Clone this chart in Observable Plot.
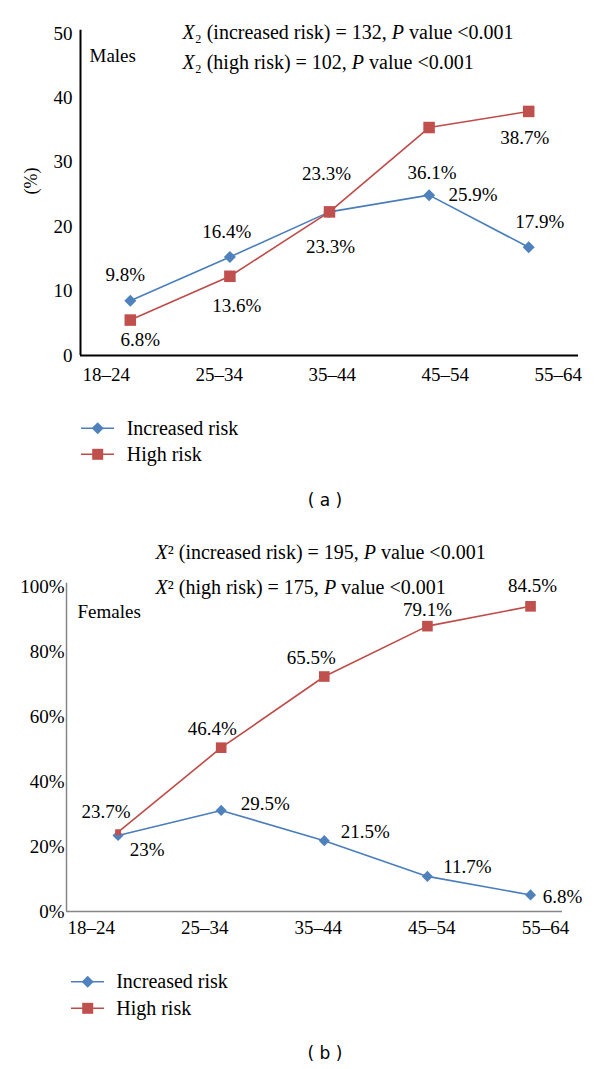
<!DOCTYPE html>
<html><head><meta charset="utf-8">
<script src="https://cdn.jsdelivr.net/npm/d3@7"></script>
<script src="https://cdn.jsdelivr.net/npm/@observablehq/plot@0.6"></script>
<style>
body{margin:0;background:#fff;}
#root{position:relative;width:600px;height:1069px;}
#root svg{position:absolute;left:0;overflow:visible;}
#root svg text{font-family:'Liberation Serif','Times New Roman',serif;}
#root svg text.cap{font-family:'DejaVu Sans',sans-serif;}
</style></head><body><div id="root"></div>
<script>
// ---- data ----
const ageGroups = ["18–24", "25–34", "35–44", "45–54", "55–64"];
const seriesNames = ["Increased risk", "High risk"];

const malesIncreased = [8.5, 15.3, 22.3, 24.9, 16.8];
const malesHigh = [5.5, 12.3, 22.3, 35.4, 37.9];
const malesIncreasedLabels = ["9.8%", "16.4%", "23.3%", "25.9%", "17.9%"];
const malesHighLabels = ["6.8%", "13.6%", "23.3%", "36.1%", "38.7%"];
const malesTicks = [0, 10, 20, 30, 40, 50];
const malesNotes = ["X₂ (increased risk) = 132, P value <0.001", "X₂ (high risk) = 102, P value <0.001"];

const femalesIncreased = [23.4, 31.1, 21.8, 10.8, 5.1];
const femalesHigh = [24.4, 50.4, 72.3, 87.8, 93.9];
const femalesIncreasedLabels = ["23%", "29.5%", "21.5%", "11.7%", "6.8%"];
const femalesHighLabels = ["23.7%", "46.4%", "65.5%", "79.1%", "84.5%"];
const femalesTicks = [0, 20, 40, 60, 80, 100];
const femalesNotes = ["X² (increased risk) = 195, P value <0.001", "X² (high risk) = 175, P value <0.001"];

// ---- layout (label nudges in px) ----
const nudgeMalesIncreased = [[-5,-26],[-3,-25],[-3,-38],[44,0],[11,-25]];
const nudgeMalesHigh = [[10,20],[7,30],[1,35],[3,45],[-4,26]];
const nudgeFemalesIncreased = [[29,14],[44,-7],[41,-9],[40,-9],[32,2]];
const nudgeFemalesHigh = [[-12,-20],[-9,-19],[-13,-19],[0,-16],[2,-20]];

const BLUE = "#4F81BD", RED = "#C0504D", BLUE_LINE = "#4A7EBB", RED_LINE = "#BE4B48";
const SERIF = "'Liberation Serif', 'Times New Roman', serif";

function labelMarks(vals, labels, nudges) {
  return labels.map((lab, i) => Plot.text([i], {
    x: d => d, y: d => vals[d], text: () => lab,
    dx: nudges[i][0], dy: nudges[i][1], fontSize: 19, fontFamily: SERIF, fill: "black"
  }));
}

function panel(o) {
  const idx = d3.range(ageGroups.length);
  const T = {fontFamily: SERIF, fill: "black"};
  const marks = [
    Plot.ruleY([0], {x1: o.xMin, x2: o.xMax, stroke: o.axisColor, strokeWidth: o.axisWidth}),
    Plot.ruleX([o.xMin], {y1: 0, y2: o.yMax + o.yMax * 0.01, stroke: o.axisColor, strokeWidth: o.axisWidth}),
    Plot.axisY({ticks: o.yTicks, tickSize: 0, tickPadding: o.tickPad, tickFormat: o.fmt, fontSize: o.yFont, label: null, ...T}),
    Plot.text(ageGroups, {x: (d, i) => o.tickStart + i * o.tickStep, y: 0, dy: o.tickDy, text: d => d, fontSize: 19, ...T}),
    Plot.line(idx, {x: i => i, y: i => o.inc[i], stroke: BLUE_LINE, strokeWidth: 1.6}),
    Plot.line(idx, {x: i => i, y: i => o.high[i], stroke: RED_LINE, strokeWidth: 1.6}),
    Plot.dot(idx, {x: i => i, y: i => o.inc[i], symbol: "diamond2", r: o.dR, fill: BLUE, stroke: "none"}),
    Plot.dot(idx.filter(i => !(o.smallFirst && i === 0)), {x: i => i, y: i => o.high[i], symbol: "square", r: o.sR, fill: RED, stroke: "none"}),
    ...(o.smallFirst ? [Plot.dot([0], {x: i => i, y: i => o.high[i], symbol: "square", r: 3.3, fill: RED, stroke: "none"})] : []),
    ...labelMarks(o.inc, o.incLabels, o.incNudge),
    ...labelMarks(o.high, o.highLabels, o.highNudge),
    Plot.text([o.title], {frameAnchor: "top-left", lineAnchor: "middle", dx: o.titleDx, dy: o.titleDy, textAnchor: "start", text: d => d, fontSize: 19, ...T}),
    Plot.text([o.notes[0]], {frameAnchor: "top-left", lineAnchor: "middle", dx: o.noteDx, dy: o.noteDy[0], textAnchor: "start", text: d => d, fontSize: 20, ...T}),
    Plot.text([o.notes[1]], {frameAnchor: "top-left", lineAnchor: "middle", dx: o.noteDx, dy: o.noteDy[1], textAnchor: "start", text: d => d, fontSize: 20, ...T})
  ];
  if (o.yLabel) marks.push(Plot.text([o.yLabel], {frameAnchor: "left", dx: o.yLabelDx, rotate: -90, text: d => d, fontSize: 18, ...T}));
  const svg = Plot.plot({
    width: 600, height: o.height,
    marginLeft: o.ml, marginRight: o.mr, marginTop: o.mt, marginBottom: o.mb,
    x: {domain: [o.xMin, o.xMax], axis: null},
    y: {domain: [0, o.yMax]},
    style: {fontFamily: SERIF, fontSize: "19px", color: "black", background: "transparent", overflow: "visible"},
    marks
  });
  svg.setAttribute("font-family", SERIF);
  // italic X and P in the test annotations
  d3.select(svg).selectAll("text").each(function() {
    const s = this.textContent;
    if (!o.notes.includes(s)) return;
    const sel = d3.select(this);
    sel.text(null);
    s.split(/(X|P(?= value))/).forEach(p => {
      if (!p) return;
      const t = sel.append("tspan").text(p);
      if (p === "X" || p === "P") t.attr("font-style", "italic");
    });
  });
  svg.style.top = o.top + "px";
  return svg;
}

const root = document.getElementById("root");
root.appendChild(panel({
  top: 0, height: 400, ml: 80, mr: 22, mt: 33, mb: 45,
  xMin: -0.5, xMax: 4.5, yMax: 50, yTicks: malesTicks, tickPad: 8, fmt: d => String(d), yFont: 19,
  axisColor: "#000", axisWidth: 2, tickStart: -0.241, tickStep: 1.1345, tickDy: 19,
  inc: malesIncreased, high: malesHigh, incLabels: malesIncreasedLabels, highLabels: malesHighLabels,
  incNudge: nudgeMalesIncreased, highNudge: nudgeMalesHigh, dR: 5.4, sR: 6.5, smallFirst: false,
  title: "Males", titleDx: 9, titleDy: 22, notes: malesNotes, noteDx: 102, noteDy: [-1, 29],
  yLabel: "(%)", yLabelDx: -49
}));
root.appendChild(panel({
  top: 520, height: 440, ml: 66, mr: 38, mt: 66, mb: 49,
  xMin: -0.5, xMax: 4.31, yMax: 100, yTicks: femalesTicks, tickPad: 2, fmt: d => d + "%", yFont: 19,
  axisColor: "#868686", axisWidth: 1.5, tickStart: -0.26, tickStep: 1.101, tickDy: 16.5,
  inc: femalesIncreased, high: femalesHigh, incLabels: femalesIncreasedLabels, highLabels: femalesHighLabels,
  incNudge: nudgeFemalesIncreased, highNudge: nudgeFemalesHigh, dR: 5, sR: 6, smallFirst: true,
  title: "Females", titleDx: 11, titleDy: 25, notes: femalesNotes, noteDx: 89, noteDy: [-34, 1],
  yLabel: null
}));

// ---- legends and captions ----
function legendAndCaption(top, x0, x1, xm, tx, rowY, caption, capY) {
  const svg = d3.create("svg").attr("width", 600).attr("height", 120).style("top", top + "px");
  const colors = [[BLUE_LINE, BLUE, "diamond"], [RED_LINE, RED, "square"]];
  seriesNames.forEach((name, k) => {
    const y = rowY[k];
    svg.append("line").attr("x1", x0).attr("x2", x1).attr("y1", y).attr("y2", y)
      .attr("stroke", colors[k][0]).attr("stroke-width", 1.6);
    if (colors[k][2] === "diamond") {
      svg.append("path").attr("d", `M${xm},${y-6}L${xm+6},${y}L${xm},${y+6}L${xm-6},${y}Z`).attr("fill", colors[k][1]);
    } else {
      svg.append("rect").attr("x", xm - 5.5).attr("y", y - 5.5).attr("width", 11).attr("height", 11).attr("fill", colors[k][1]);
    }
    svg.append("text").attr("x", tx).attr("y", y).attr("dy", "0.32em")
      .attr("font-family", SERIF).attr("font-size", 20).attr("fill", "black").text(name);
  });
  svg.append("text").attr("class", "cap").attr("x", 325).attr("y", capY).attr("dy", "0.35em").attr("text-anchor", "middle")
    .attr("font-size", 17).attr("fill", "black").text(caption);
  root.appendChild(svg.node());
}
legendAndCaption(400, 81, 114, 97.7, 126.7, [28.3, 54.3], "( a )", 100);
legendAndCaption(950, 71, 104, 87.7, 116.2, [31.7, 58.3], "( b )", 103);
</script></body></html>
